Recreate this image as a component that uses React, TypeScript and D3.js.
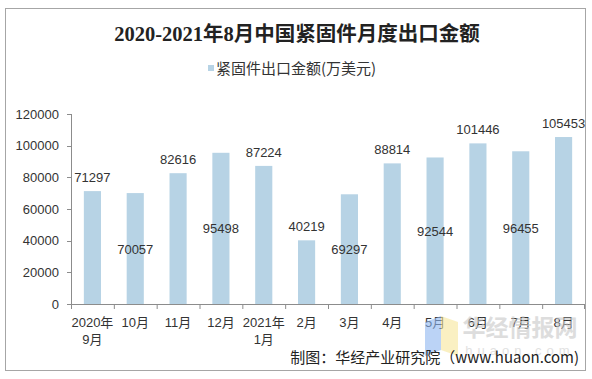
import React from "react";
import * as d3 from "d3";

const categories = ["2020年\n9月", "10月", "11月", "12月", "2021年\n1月", "2月", "3月", "4月", "5月", "6月", "7月", "8月"];
const values = [71297, 70057, 82616, 95498, 87224, 40219, 69297, 88814, 92544, 101446, 96455, 105453];
const labelPlacement = ["out", "mid", "out", "mid", "out", "out", "mid", "out", "mid", "out", "mid", "out"];
const yTicks = [0, 20000, 40000, 60000, 80000, 100000, 120000];

const W = 592, H = 379;
const L = 71, R = 585, T = 114, B = 304;

export default function App() {
  const x = d3.scaleBand<string>().domain(categories).range([L, R]).paddingInner(0.6).paddingOuter(0.3);
  const xb = d3.scaleBand<string>().domain(categories).range([L, R]);
  const y = d3.scaleLinear().domain([0, 120000]).range([B, T]);
  const axisColor = "#8c8c8c";
  const font = "'Liberation Sans', Arial, 'Noto Sans CJK SC', sans-serif";
  return (
    <svg width={W} height={H} style={{ position: "absolute", left: 0, top: 0 }} fontFamily={font}>
      <rect x={0} y={0} width={W} height={H} fill="#fff" />
      <rect x={5.5} y={8.5} width={580} height={362} fill="#fff" stroke="#a6a6a6" strokeWidth={1} />
      <text x={297} y={41} textAnchor="middle" fontSize={20.5} fontWeight="bold"
        fontFamily="'Liberation Serif', 'Noto Sans CJK SC', serif" fill="#222">
        2020-2021年8月中国紧固件月度出口金额
      </text>
      <rect x={208} y={65} width={6} height={6} fill="#b7d3e5" />
      <text x={216} y={74} fontSize={15} fill="#333" fontFamily="'Noto Sans CJK SC', sans-serif">紧固件出口金额(万美元)</text>

      {/* y axis */}
      <line x1={L + 0.5} x2={L + 0.5} y1={T} y2={B} stroke={axisColor} />
      {yTicks.map((t) => (
        <g key={t}>
          <line x1={L - 4} x2={L} y1={Math.round(y(t)) + 0.5} y2={Math.round(y(t)) + 0.5} stroke={axisColor} />
          <text x={L - 12} y={y(t) + 4.5} textAnchor="end" fontSize={13} fill="#333">{t}</text>
        </g>
      ))}

      {/* bars */}
      {values.map((v, i) => (
        <rect key={i} x={x(categories[i])} y={y(v)} width={x.bandwidth()} height={B - y(v)} fill="#b7d3e5" />
      ))}

      {/* x axis */}
      <line x1={L} x2={R} y1={B + 0.5} y2={B + 0.5} stroke={axisColor} />
      {categories.map((c, i) => (
        <line key={"t" + i} x1={xb(c)! + 0.5} x2={xb(c)! + 0.5} y1={B} y2={B + 5} stroke={axisColor} />
      ))}
      <line x1={R - 0.5} x2={R - 0.5} y1={B} y2={B + 5} stroke={axisColor} />
      {categories.map((c, i) => {
        const cx = xb(c)! + xb.bandwidth() / 2;
        return c.split("\n").map((ln, j) => (
          <text key={c + j} x={cx} y={327 + j * 17} textAnchor="middle" fontSize={13} fill="#333">{ln}</text>
        ));
      })}

      {/* data labels */}
      {values.map((v, i) => {
        const cx = x(categories[i])! + x.bandwidth() / 2;
        const ly = labelPlacement[i] === "out" ? y(v) - 9 : y(v / 2) + 5;
        return (
          <text key={"l" + i} x={cx} y={ly} textAnchor="middle" fontSize={13} fill="#333">{v}</text>
        );
      })}

      {/* watermark */}
      <g opacity={0.75}>
        <polygon points="425,322 441,316 441,350 425,356" fill="#8fb6f0" opacity={0.8} />
        <polygon points="441,316 458,322 458,356 441,350" fill="#f8e79a" opacity={0.8} />
        <text x={520} y={336} textAnchor="middle" fontSize={23} fontWeight="bold" fill="#c8c8c8"
          fontFamily="'Noto Sans CJK SC', sans-serif" opacity={0.8}>华经情报网</text>
        <text x={520} y={355} textAnchor="middle" fontSize={13} letterSpacing={5} fill="#d8d8d8">huaon.com</text>
      </g>

      <text x={579} y={363} textAnchor="end" fontSize={15} fill="#222" fontFamily="'Noto Sans CJK SC', sans-serif">
        制图：华经产业研究院（www.huaon.com)
      </text>
    </svg>
  );
}
